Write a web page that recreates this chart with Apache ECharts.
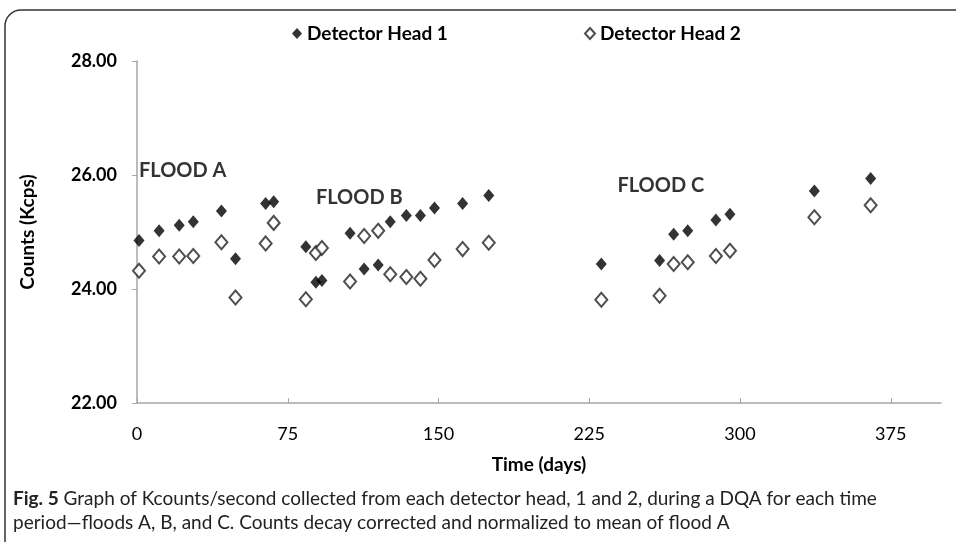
<!DOCTYPE html>
<html>
<head>
<meta charset="utf-8">
<script src="https://cdn.jsdelivr.net/npm/echarts@6/dist/echarts.min.js"></script>
<style>
    html, body { margin: 0; padding: 0; background: #fff; }
    #chart { width: 956px; height: 542px; }
</style>
</head>
<body>
<div id="chart"></div>
<script>
// measurement days, shared by both detector heads
const days = [1, 11, 21, 28, 42, 49, 64, 68, 84, 89, 92, 106, 113, 120, 126, 134, 141, 148, 162, 175, 231, 260, 267, 274, 288, 295, 337, 365];
const head1 = [24.85, 25.02, 25.12, 25.18, 25.37, 24.53, 25.50, 25.53, 24.74, 24.12, 24.15, 24.98, 24.35, 24.42, 25.18, 25.29, 25.29, 25.42, 25.50, 25.64, 24.44, 24.50, 24.96, 25.02, 25.21, 25.31, 25.72, 25.94];
const head2 = [24.32, 24.57, 24.57, 24.58, 24.82, 23.85, 24.80, 25.16, 23.82, 24.63, 24.72, 24.13, 24.93, 25.02, 24.26, 24.21, 24.18, 24.51, 24.70, 24.81, 23.81, 23.88, 24.44, 24.47, 24.58, 24.67, 25.26, 25.47];

const xTicks = [0, 75, 150, 225, 300, 375];

// flood period labels (anchor = left edge, vertical centre)
const floodNames = ["FLOOD A", "FLOOD B", "FLOOD C"];
const floodDays = [1, 89, 239];
const floodValues = [26.07, 25.6, 25.81];

const font = "Lato";

const chart = echarts.init(document.getElementById("chart"));

const pairs = (xs, ys) => xs.map((x, i) => [x, ys[i]]);

const option = {
    animation: false,
    backgroundColor: "#fff",
    textStyle: { fontFamily: font },
    graphic: [
        {
            type: "rect",
            shape: { x: 5, y: 10, width: 1000, height: 600, r: 16 },
            style: { fill: "none", stroke: "#333", lineWidth: 1.5 },
        },
        {
            type: "text",
            left: 13,
            top: 487,
            style: {
                text: "{b|Fig. 5} Graph of Kcounts/second collected from each detector head, 1 and 2, during a DQA for each time\nperiod\u2014floods A, B, and C. Counts decay corrected and normalized to mean of flood A",
                fontFamily: font,
                fontSize: 19,
                lineHeight: 24,
                fill: "#222",
                rich: {
                    b: {
                        fontFamily: font,
                        fontWeight: "bold",
                        fontSize: 19,
                        fill: "#222",
                    },
                },
            },
        },
    ],
    legend: [
        {
            data: ["Detector Head 1"],
            left: 287,
            top: 19,
            itemWidth: 10,
            itemHeight: 11,
            itemGap: 6,
            textStyle: { fontFamily: font, fontWeight: "bold", fontSize: 19, color: "#000" },
        },
        {
            data: ["Detector Head 2"],
            left: 579,
            top: 19,
            itemWidth: 10,
            itemHeight: 11,
            itemGap: 6,
            textStyle: { fontFamily: font, fontWeight: "bold", fontSize: 19, color: "#000" },
        },
    ],
    grid: {
        left: 137,
        right: 15,
        top: 61,
        bottom: 139,
    },
    xAxis: {
        type: "value",
        min: 0,
        max: 400,
        interval: 75,
        name: "Time (days)",
        nameLocation: "middle",
        nameGap: 52,
        nameTextStyle: { fontFamily: font, fontWeight: "bold", fontSize: 19, color: "#000" },
        splitLine: { show: false },
        axisLine: { lineStyle: { color: "#a6a6a6", width: 1.5 } },
        axisTick: { show: true, inside: true, length: 5, customValues: xTicks, lineStyle: { color: "#a6a6a6" } },
        axisLabel: {
            customValues: xTicks,
            margin: 22,
            fontFamily: font,
            fontSize: 18,
            color: "#000",
        },
    },
    yAxis: {
        type: "value",
        min: 22,
        max: 28,
        interval: 2,
        name: "Counts (Kcps)",
        nameLocation: "middle",
        nameGap: 100,
        nameTextStyle: { fontFamily: font, fontWeight: "bold", fontSize: 19, color: "#000" },
        splitLine: { show: false },
        axisLine: { show: true, lineStyle: { color: "#a6a6a6", width: 1.5 } },
        axisTick: { show: true, length: 5, lineStyle: { color: "#a6a6a6" } },
        axisLabel: {
            margin: 20,
            fontFamily: font,
            fontWeight: "bold",
            fontSize: 18,
            color: "#000",
            formatter: (v) => v.toFixed(2),
        },
    },
    series: [
        {
            name: "Detector Head 1",
            type: "scatter",
            symbol: "diamond",
            symbolSize: [11, 13],
            itemStyle: { color: "#000" },
            data: pairs(days, head1),
        },
        {
            name: "Detector Head 2",
            type: "scatter",
            symbol: "diamond",
            symbolSize: [12, 14],
            itemStyle: { color: "#fff", borderColor: "#222", borderWidth: 2 },
            data: pairs(days, head2),
        },
        {
            name: "floods",
            type: "scatter",
            symbolSize: 0,
            silent: true,
            label: {
                show: true,
                position: "right",
                distance: 0,
                formatter: (p) => p.name,
                fontFamily: font,
                fontWeight: "bold",
                fontSize: 20,
                color: "#000",
            },
            data: floodNames.map((n, i) => ({ name: n, value: [floodDays[i], floodValues[i]] })),
        },
    ],
};

chart.setOption(option);
</script>
</body>
</html>
